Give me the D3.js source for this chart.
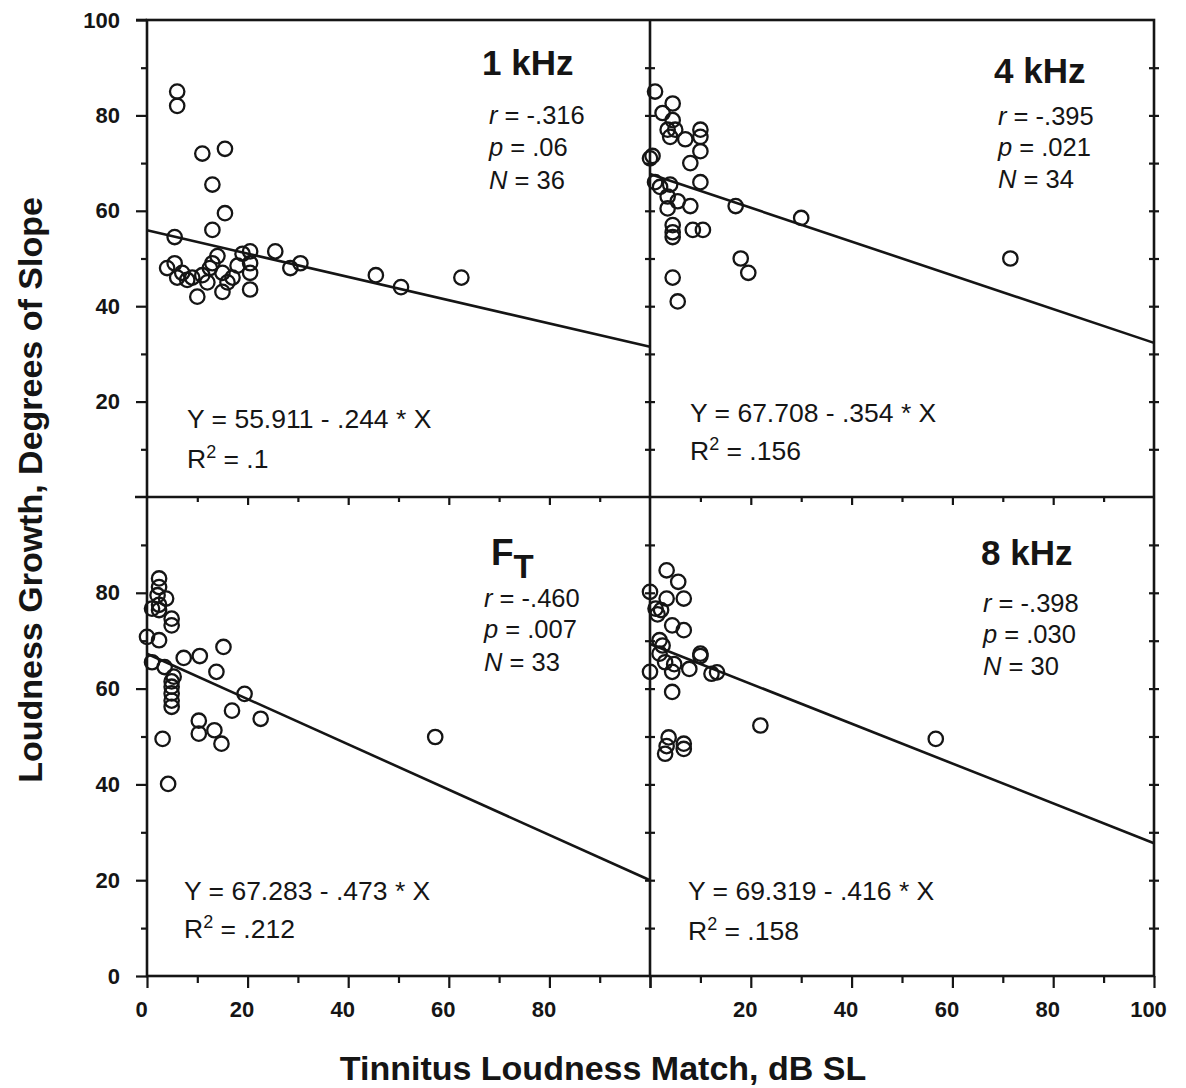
<!DOCTYPE html>
<html>
<head>
<meta charset="utf-8">
<script src="https://cdn.jsdelivr.net/npm/d3@7"></script>
<style>
  body { margin: 0; background: #fff; }
  svg { display: block; }
  text { font-family: "Liberation Sans", Arial, Helvetica, sans-serif; fill: #151515; }
</style>
</head>
<body>
<svg width="1186" height="1088"></svg>
<script>
// values
var panelNames = ["1 kHz", "4 kHz", "F", "8 kHz"];

var khz1X = [6, 6, 11, 15.5, 13, 15.5, 13, 5.5, 4, 5.5, 6, 8, 9, 10, 11, 12, 12.5, 14, 15, 15,
             17, 18, 19, 20.5, 20.5, 20.5, 20.5, 25.5, 28.5, 30.5, 45.5, 50.5, 62.5, 16, 7, 13];
var khz1Y = [85, 82, 72, 73, 65.5, 59.5, 56, 54.5, 48, 49, 46, 45.5, 46, 42, 46.5, 45, 48, 50.5, 47, 43,
             46, 48.5, 51, 51.5, 47, 43.5, 49, 51.5, 48, 49, 46.5, 44, 46, 45, 47, 49];

var khz4X = [1, 4.5, 2.5, 4.5, 3.5, 5, 4, 7, 10, 10, 10, 8, 0, 1, 4, 10, 3.5, 5.5, 3.5, 8,
             17, 30, 4.5, 4.5, 4.5, 8.5, 10.5, 18, 4.5, 5.5, 19.5, 71.5, 0.5, 2];
var khz4Y = [85, 82.5, 80.5, 79, 77, 77, 75.5, 75, 77, 75.5, 72.5, 70, 71, 66, 65.5, 66, 63, 62, 60.5, 61,
             61, 58.5, 57, 55.5, 54.5, 56, 56, 50, 46, 41, 47, 50, 71.5, 65];

var ftX = [2.4, 2.4, 2.1, 3.8, 1, 2.4, 4.9, 4.9, 0, 2.4, 15.2, 1, 3.5, 7.3, 10.5, 13.8, 5.3, 4.9, 4.9, 4.9,
           4.9, 19.4, 16.9, 22.6, 10.3, 10.3, 13.4, 14.8, 3.1, 57.3, 4.2, 4.9, 2.4];
var ftY = [83, 81.2, 79.5, 78.8, 76.7, 76.4, 74.6, 73.2, 70.8, 70.1, 68.7, 65.5, 64.5, 66.4, 66.8, 63.5, 62.5, 60.4, 59, 57.5,
           56.2, 58.9, 55.4, 53.7, 53.3, 50.6, 51.3, 48.5, 49.5, 49.9, 40.1, 61.5, 77.5];

var khz8X = [3.3, 5.6, 0, 3.3, 6.7, 1.1, 2.2, 1.5, 4.4, 6.7, 1.9, 1.9, 10, 0, 3, 4.8, 7.8, 10, 12.2, 13.3,
             4.4, 4.4, 21.9, 56.7, 3.7, 6.7, 3, 6.7, 3.3, 2.5];
var khz8Y = [84.7, 82.3, 80.2, 78.8, 78.8, 76.7, 76.4, 75.5, 73.2, 72.2, 70.1, 67.3, 67.3, 63.5, 65.5, 65.1, 64.1, 66.8, 63.1, 63.4,
             63.5, 59.3, 52.3, 49.5, 49.8, 48.5, 46.4, 47.4, 48, 69];

var intercepts = [55.911, 67.708, 67.283, 69.319];
var slopes = [-0.244, -0.354, -0.473, -0.416];
var rValues = ["-.316", "-.395", "-.460", "-.398"];
var pValues = [".06", ".021", ".007", ".030"];
var nValues = [36, 34, 33, 30];
var r2Values = [".1", ".156", ".212", ".158"];

var yTickLabelsTop = [20, 40, 60, 80, 100];
var yTickLabelsBottom = [0, 20, 40, 60, 80];
var xTickLabelsLeft = [0, 20, 40, 60, 80];
var xTickLabelsRight = [20, 40, 60, 80, 100];

var svg = d3.select("svg");
var ink = "#151515";

var L = 147, M = 650, R = 1154, T = 20, H = 497, B = 976;

var xLeft = d3.scaleLinear().domain([0, 100]).range([L, M]);
var xRight = d3.scaleLinear().domain([0, 100]).range([M, R]);
var yTop = d3.scaleLinear().domain([0, 100]).range([H, T]);
var yBot = d3.scaleLinear().domain([0, 100]).range([B, H]);

var panels = [
  { xs: khz1X, ys: khz1Y, x: xLeft, y: yTop, title: [335, 55], stats: [342, 104, 136, 169], eq: [40, 408, 448] },
  { xs: khz4X, ys: khz4Y, x: xRight, y: yTop, title: [344, 63], stats: [348, 105, 136, 168], eq: [40, 402, 440] },
  { xs: ftX, ys: ftY, x: xLeft, y: yBot, title: [344, 68], stats: [337, 110, 141, 174], eq: [37, 403, 441] },
  { xs: khz8X, ys: khz8Y, x: xRight, y: yBot, title: [331, 68], stats: [333, 115, 146, 178], eq: [38, 403, 443] }
];

var minor = d3.range(10, 100, 20);
var all10 = d3.range(0, 101, 10);

function styleAxis(g) {
  g.select(".domain").remove();
  g.selectAll("line").attr("stroke", ink).attr("stroke-width", 2.2);
  g.selectAll("text")
    .attr("fill", ink)
    .attr("font-family", "'Liberation Sans', Arial, sans-serif")
    .attr("font-weight", "bold")
    .attr("font-size", 22);
}

// left axis, top and bottom panels
svg.append("g").attr("transform", "translate(" + L + ",0)")
  .call(d3.axisLeft(yTop).tickValues(yTickLabelsTop).tickSize(11).tickPadding(16).tickFormat(d3.format("d")))
  .call(styleAxis);
svg.append("g").attr("transform", "translate(" + L + ",0)")
  .call(d3.axisLeft(yTop).tickValues(minor).tickSize(6).tickFormat(""))
  .call(styleAxis);
svg.append("g").attr("transform", "translate(" + L + ",0)")
  .call(d3.axisLeft(yBot).tickValues(yTickLabelsBottom).tickSize(11).tickPadding(16).tickFormat(d3.format("d")))
  .call(styleAxis);
svg.append("g").attr("transform", "translate(" + L + ",0)")
  .call(d3.axisLeft(yBot).tickValues(minor).tickSize(6).tickFormat(""))
  .call(styleAxis);

// bottom axis
[[xLeft, xTickLabelsLeft], [xRight, xTickLabelsRight]].forEach(function(a) {
  svg.append("g").attr("transform", "translate(0," + B + ")")
    .call(d3.axisBottom(a[0]).tickValues([0, 20, 40, 60, 80, 100]).tickSize(12).tickPadding(13)
      .tickFormat(function(d) { return a[1].indexOf(d) >= 0 ? d : ""; }))
    .call(styleAxis)
    .selectAll("text").attr("dx", -6);
  svg.append("g").attr("transform", "translate(0," + B + ")")
    .call(d3.axisBottom(a[0]).tickValues(minor).tickSize(7).tickFormat(""))
    .call(styleAxis);
  // ticks hanging below the middle divider
  svg.append("g").attr("transform", "translate(0," + H + ")")
    .call(d3.axisBottom(a[0]).tickValues([20, 40, 60, 80]).tickSize(8).tickFormat(""))
    .call(styleAxis);
  svg.append("g").attr("transform", "translate(0," + H + ")")
    .call(d3.axisBottom(a[0]).tickValues(minor).tickSize(5).tickFormat(""))
    .call(styleAxis);
});

// crossing ticks on the vertical divider and the right edge
[M, R].forEach(function(px) {
  [yTop, yBot].forEach(function(ys) {
    svg.append("g").attr("transform", "translate(" + px + ",0)")
      .call(d3.axisLeft(ys).tickValues(all10.slice(1, 10)).tickSize(5).tickFormat(""))
      .call(styleAxis);
    svg.append("g").attr("transform", "translate(" + px + ",0)")
      .call(d3.axisRight(ys).tickValues(all10.slice(1, 10)).tickSize(5).tickFormat(""))
      .call(styleAxis);
  });
});

// frame
var frame = svg.append("g").attr("stroke", ink).attr("stroke-width", 2.6).attr("fill", "none");
frame.append("rect").attr("x", L).attr("y", T).attr("width", R - L).attr("height", B - T);
frame.append("line").attr("x1", L - 12).attr("x2", R).attr("y1", H).attr("y2", H);
frame.append("line").attr("x1", M).attr("x2", M).attr("y1", T).attr("y2", B);
frame.append("line").attr("x1", L - 11).attr("x2", L).attr("y1", T).attr("y2", T);

var fmt = function(v) { return v.toFixed(3).replace(/^0/, ""); };

panels.forEach(function(p, i) {
  var g = svg.append("g");
  var x0 = p.x.range()[0], y0 = p.y.range()[1];
  var pts = p.xs.map(function(d, j) { return [d, p.ys[j]]; });

  // regression line
  g.append("line")
    .attr("x1", p.x(0)).attr("y1", p.y(intercepts[i]))
    .attr("x2", p.x(100)).attr("y2", p.y(intercepts[i] + slopes[i] * 100))
    .attr("stroke", ink).attr("stroke-width", 2.6);

  g.selectAll("circle").data(pts).join("circle")
    .attr("cx", function(d) { return p.x(d[0]); })
    .attr("cy", function(d) { return p.y(d[1]); })
    .attr("r", 7.2)
    .attr("fill", "none")
    .attr("stroke", ink)
    .attr("stroke-width", 2.3);

  // panel title
  var title = g.append("text")
    .attr("x", x0 + p.title[0]).attr("y", y0 + p.title[1])
    .attr("font-weight", "bold").attr("font-size", 35)
    .text(panelNames[i]);
  if (panelNames[i] === "F") {
    title.attr("font-size", 37);
    title.append("tspan").attr("dy", 13).attr("font-size", 33).text("T");
  }

  // statistics
  var sx = x0 + p.stats[0];
  [["r", rValues[i]], ["p", pValues[i]], ["N", nValues[i]]].forEach(function(s, k) {
    var t = g.append("text").attr("x", sx).attr("y", y0 + p.stats[k + 1]).attr("font-size", 25.5);
    t.append("tspan").attr("font-style", "italic").text(s[0]);
    t.append("tspan").text(" = " + s[1]);
  });

  // equation and R squared
  g.append("text").attr("x", x0 + p.eq[0]).attr("y", y0 + p.eq[1]).attr("font-size", 26.5)
    .text("Y = " + intercepts[i].toFixed(3) + " - " + fmt(-slopes[i]) + " * X");
  var r2 = g.append("text").attr("x", x0 + p.eq[0]).attr("y", y0 + p.eq[2]).attr("font-size", 26.5);
  r2.append("tspan").text("R");
  r2.append("tspan").attr("dy", -10).attr("font-size", 18).text("2");
  r2.append("tspan").attr("dy", 10).text(" = " + r2Values[i]);
});

// axis titles
svg.append("text")
  .attr("x", 603).attr("y", 1080)
  .attr("text-anchor", "middle")
  .attr("font-weight", "bold").attr("font-size", 34)
  .text("Tinnitus Loudness Match, dB SL");

svg.append("text")
  .attr("transform", "translate(42,490) rotate(-90)")
  .attr("text-anchor", "middle")
  .attr("font-weight", "bold").attr("font-size", 34)
  .text("Loudness Growth, Degrees of Slope");
</script>
</body>
</html>
